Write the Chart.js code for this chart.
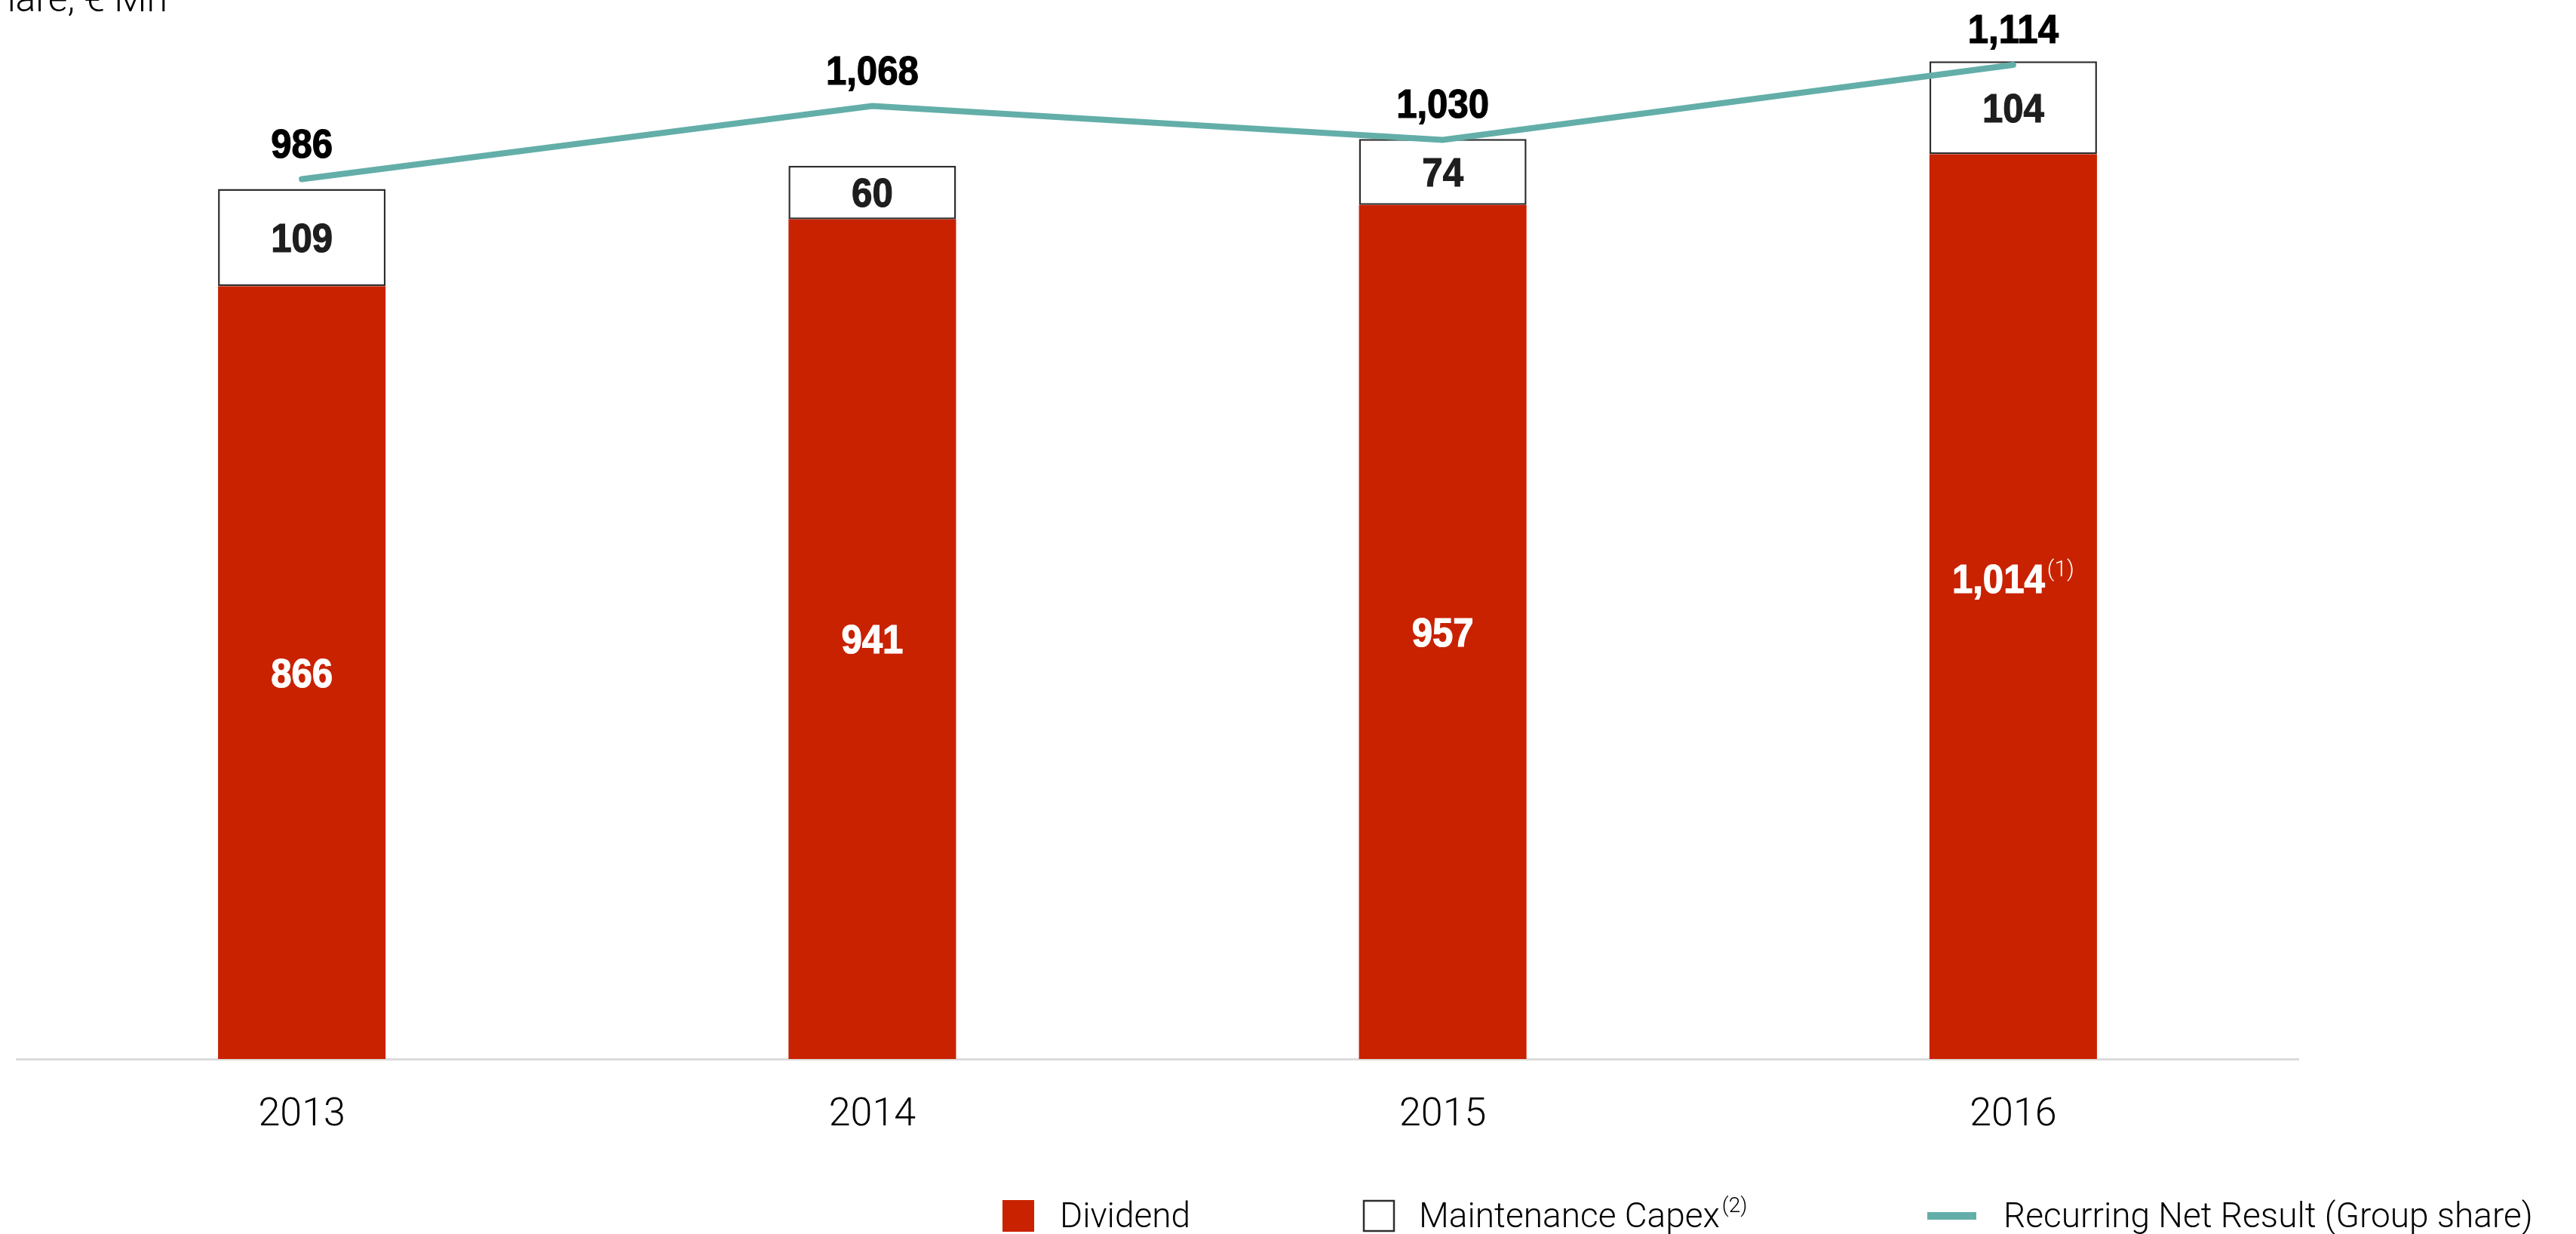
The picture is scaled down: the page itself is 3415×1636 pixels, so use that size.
<!DOCTYPE html>
<html>
<head>
<meta charset="utf-8">
<script src="https://cdn.jsdelivr.net/npm/chart.js@4.4.1/dist/chart.umd.min.js"></script>
<style>
  html, body { margin: 0; padding: 0; background: #ffffff; overflow: hidden; }
  #wrap { width: 3415px; height: 1636px; position: relative; }
</style>
</head>
<body>
<div id="wrap"><canvas id="chart" width="3415" height="1636"></canvas></div>
<script>
// ---- data ----
const years = ['2013', '2014', '2015', '2016'];
const dividend = [866, 941, 957, 1014];
const maintenanceCapex = [109, 60, 74, 104];
const recurringNetResult = [986, 1068, 1030, 1114];
const dividendNotes = ['', '', '', '(1)'];
const seriesNames = ['Dividend', 'Maintenance Capex', 'Recurring Net Result (Group share)'];
const seriesNotes = ['', '(2)', ''];
const unitLabel = 'Group share, € Mn';

// ---- styles ----
const RED = '#C92200';
const TEAL = '#63AEA9';
const OUTLINE = '#2e2e2e';
const LIGHT_FONT = 'Roboto';
const VALUE_FONT = 'bold 54px "Liberation Sans", Arial, sans-serif';
const SQUEEZE = 0.91;   // condensed look for the value figures

const fmt = v => v.toLocaleString('en-US');

// heavy, slightly condensed figure centred on cx
function drawFigure(ctx, text, cx, baseline, color) {
  ctx.save();
  ctx.font = VALUE_FONT;
  ctx.textAlign = 'center';
  ctx.fillStyle = color;
  ctx.strokeStyle = color;
  ctx.lineWidth = 1.2;
  ctx.translate(cx, baseline);
  ctx.scale(SQUEEZE, 1);
  ctx.fillText(text, 0, 0);
  ctx.strokeText(text, 0, 0);
  ctx.restore();
}

function figureWidth(ctx, text) {
  ctx.font = VALUE_FONT;
  return ctx.measureText(text).width * SQUEEZE;
}

const valueLabels = {
  id: 'valueLabels',
  afterDatasetsDraw(chart) {
    const ctx = chart.ctx;
    const divMeta = chart.getDatasetMeta(0);
    const capMeta = chart.getDatasetMeta(1);
    const lineMeta = chart.getDatasetMeta(2);
    const capHalf = 19;     // half of the digit height, for visual centring
    const noteLift = 37;    // labels carrying a note sit a little higher
    const noteFont = '300 30px ' + LIGHT_FONT;
    ctx.save();
    ctx.textBaseline = 'alphabetic';

    divMeta.data.forEach((el, i) => {
      const note = dividendNotes[i];
      const cy = (el.y + el.base) / 2 - (note ? noteLift : 0);
      const text = fmt(dividend[i]);
      const w1 = figureWidth(ctx, text);
      ctx.font = noteFont;
      const w2 = note ? ctx.measureText(note).width + 3 : 0;
      const left = el.x - (w1 + w2) / 2;
      drawFigure(ctx, text, left + w1 / 2, cy + capHalf, '#ffffff');
      if (note) {
        ctx.font = noteFont;
        ctx.textAlign = 'left';
        ctx.fillStyle = '#ffffff';
        ctx.fillText(note, left + w1 + 3, cy + capHalf - 22);
      }
    });

    capMeta.data.forEach((el, i) => {
      const cy = (el.y + el.base) / 2;
      drawFigure(ctx, fmt(maintenanceCapex[i]), el.x, cy + capHalf, '#1e1e1e');
    });

    lineMeta.data.forEach((pt, i) => {
      drawFigure(ctx, fmt(recurringNetResult[i]), pt.x, pt.y - 48 + capHalf, '#000000');
    });
    ctx.restore();
  }
};

const legendAndTitle = {
  id: 'legendAndTitle',
  afterDraw(chart) {
    const ctx = chart.ctx;
    ctx.save();
    // unit caption, top left
    ctx.font = '300 50px ' + LIGHT_FONT;
    ctx.fillStyle = '#000';
    ctx.textAlign = 'right';
    ctx.textBaseline = 'alphabetic';
    ctx.fillText(unitLabel, 222, 15);

    // legend
    const base = 1627;
    const mainFont = '300 46px ' + LIGHT_FONT;
    const noteFont = '300 28px ' + LIGHT_FONT;

    ctx.fillStyle = RED;
    ctx.fillRect(1329, 1591, 42, 42);
    ctx.fillStyle = '#000';
    ctx.textAlign = 'left';
    ctx.font = mainFont;
    ctx.fillText(seriesNames[0], 1405, base);

    ctx.fillStyle = '#fff';
    ctx.fillRect(1808, 1592, 40, 40);
    ctx.strokeStyle = OUTLINE;
    ctx.lineWidth = 2.5;
    ctx.strokeRect(1808, 1592, 40, 40);
    ctx.fillStyle = '#000';
    ctx.font = mainFont;
    ctx.fillText(seriesNames[1], 1881, base);
    const w = ctx.measureText(seriesNames[1]).width;
    ctx.font = noteFont;
    ctx.fillText(seriesNotes[1], 1881 + w + 3, base - 20);

    ctx.fillStyle = TEAL;
    ctx.fillRect(2555, 1607, 65, 10);
    ctx.fillStyle = '#000';
    ctx.font = mainFont;
    ctx.fillText(seriesNames[2], 2656, base);
    ctx.restore();
  }
};

new Chart(document.getElementById('chart'), {
  type: 'bar',
  data: {
    labels: years,
    datasets: [
      {
        type: 'bar',
        label: seriesNames[0],
        data: dividend,
        backgroundColor: RED,
        borderWidth: 0,
        stack: 'payout',
        order: 1
      },
      {
        type: 'bar',
        label: seriesNames[1],
        data: maintenanceCapex,
        backgroundColor: '#ffffff',
        borderColor: OUTLINE,
        borderWidth: 2.5,
        borderSkipped: false,
        stack: 'payout',
        order: 2
      },
      {
        type: 'line',
        label: seriesNames[2],
        data: recurringNetResult,
        borderColor: TEAL,
        borderWidth: 8,
        borderCapStyle: 'round',
        borderJoinStyle: 'miter',
        pointRadius: 0,
        pointHoverRadius: 0,
        tension: 0,
        fill: false,
        stack: 'net',
        order: 0
      }
    ]
  },
  options: {
    responsive: false,
    devicePixelRatio: 1,
    animation: false,
    datasets: { bar: { barPercentage: 0.2937, categoryPercentage: 1 } },
    layout: { padding: { left: 22, right: 368, top: 8, bottom: 82 } },
    plugins: { legend: { display: false }, tooltip: { enabled: false } },
    scales: {
      x: {
        stacked: true,
        grid: { display: false, drawTicks: false },
        border: { display: true, color: '#dcdcdc', width: 3 },
        ticks: { color: '#000', padding: 44, font: { family: LIGHT_FONT, size: 52, weight: 300 } },
        afterFit: s => { s.height = 150; }
      },
      y: { stacked: true, display: false, min: 0, max: 1180 }
    }
  },
  plugins: [valueLabels, legendAndTitle]
});
</script>
</body>
</html>
